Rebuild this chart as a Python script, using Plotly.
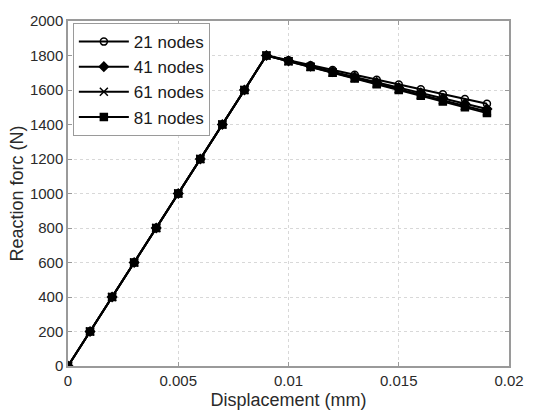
import plotly.graph_objects as go

disp = [0.0, 0.001, 0.002, 0.003, 0.004, 0.005, 0.006, 0.007, 0.008, 0.009,
        0.010, 0.011, 0.012, 0.013, 0.014, 0.015, 0.016, 0.017, 0.018, 0.019]

force_21 = [0, 200, 400, 600, 800, 1000, 1200, 1400, 1600, 1800,
            1772, 1744, 1716, 1688, 1660, 1632, 1604, 1576, 1548, 1520]
force_41 = [0, 200, 400, 600, 800, 1000, 1200, 1400, 1600, 1800,
            1769, 1738, 1707, 1676, 1645, 1614, 1583, 1552, 1521, 1490]
force_61 = [0, 200, 400, 600, 800, 1000, 1200, 1400, 1600, 1800,
            1767, 1735, 1702, 1670, 1637, 1605, 1572, 1540, 1507, 1475]
force_81 = [0, 200, 400, 600, 800, 1000, 1200, 1400, 1600, 1800,
            1766, 1733, 1700, 1666, 1633, 1600, 1566, 1533, 1500, 1466]

series_names = ["21 nodes", "41 nodes", "61 nodes", "81 nodes"]
series_values = [force_21, force_41, force_61, force_81]
symbols = ["circle-open", "diamond", "x-thin-open", "square"]

x_ticks = [0, 0.005, 0.01, 0.015, 0.02]
x_tick_labels = ["0", "0.005", "0.01", "0.015", "0.02"]
y_ticks = list(range(0, 2001, 200))

fig = go.Figure()
for name, vals, sym in zip(series_names, series_values, symbols):
    fig.add_trace(go.Scatter(
        x=disp, y=vals, name=name, mode="lines+markers",
        line=dict(color="black", width=2),
        marker=dict(symbol=sym, size=7 if sym != "x-thin-open" else 8,
                    color="black", line=dict(color="black", width=1.5)),
    ))

axis_common = dict(
    showline=True, linecolor="#9a9a9a", linewidth=1.5, mirror="ticks",
    ticks="inside", ticklen=4, tickcolor="#9a9a9a",
    showgrid=True, gridcolor="#d8d8d8", griddash="dot", gridwidth=1,
    zeroline=False,
    tickfont=dict(family="Liberation Sans, Arial, sans-serif", size=15, color="#2a2a2a"),
)

fig.update_layout(
    width=536, height=419,
    margin=dict(l=68, r=17, t=14, b=51),
    paper_bgcolor="white", plot_bgcolor="white",
    font=dict(family="Liberation Sans, Arial, sans-serif", color="#2a2a2a"),
    xaxis=dict(range=[0, 0.02], tickvals=x_ticks, ticktext=x_tick_labels,
               title=dict(text="Displacement (mm)", font=dict(size=18), standoff=6),
               **axis_common),
    yaxis=dict(range=[0, 2000], tickvals=y_ticks,
               title=dict(text="Reaction forc (N)", font=dict(size=18), standoff=2),
               **axis_common),
    legend=dict(x=0.011, y=0.994, xanchor="left", yanchor="top",
                bgcolor="white", bordercolor="#9a9a9a", borderwidth=1,
                font=dict(size=17, color="#1a1a1a"),
                itemwidth=50, tracegroupgap=0),
    showlegend=True,
)

fig.write_html("out.html")
